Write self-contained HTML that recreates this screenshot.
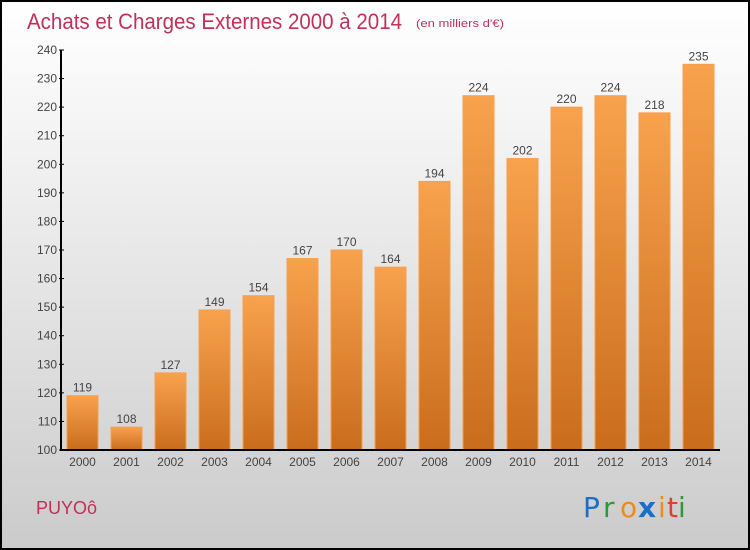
<!DOCTYPE html>
<html><head><meta charset="utf-8"><style>
html,body{margin:0;padding:0}
body{width:750px;height:550px;overflow:hidden;font-family:"Liberation Sans",sans-serif}
#wrap{position:absolute;left:0;top:0;width:746px;height:546px;border:2px solid #000;background:linear-gradient(#fff,#f3f3f3 25%,#cbcbcb)}
svg{position:absolute;left:0;top:0}
</style></head><body>
<div id="wrap"></div>
<svg width="750" height="550" id="chart">
<defs><linearGradient id="bg" x1="0" y1="0" x2="0" y2="1"><stop offset="0" stop-color="#f8a24e"/><stop offset="1" stop-color="#c96d1c"/></linearGradient></defs>
<text x="27" y="29" font-size="22" fill="#c0305a" textLength="375" lengthAdjust="spacingAndGlyphs">Achats et Charges Externes 2000 à 2014</text>
<text x="416" y="27" font-size="11" fill="#c0305a" textLength="88" lengthAdjust="spacingAndGlyphs">(en milliers d'€)</text>
<text x="36" y="514" font-size="18" fill="#c0305a">PUYOô</text>
<g font-size="28" font-family="'DejaVu Sans',sans-serif">
<text x="583" y="517" fill="#1a6fc9">P</text><text x="603" y="517" fill="#2a9a3a">r</text><text x="620" y="517" fill="#f08a1a">o</text><text x="638" y="517" fill="#1a6fc9" font-weight="bold">x</text><text x="658" y="517" fill="#f08a1a">i</text><text x="667" y="517" fill="#e0402a">t</text><text x="678" y="517" fill="#2a9a3a">i</text>
</g>
<g id="bars"></g><g id="axes"></g>
</svg>
<script>
const years=["2000","2001","2002","2003","2004","2005","2006","2007","2008","2009","2010","2011","2012","2013","2014"];
const values=[119,108,127,149,154,167,170,164,194,224,202,220,224,218,235];
const yTicks=[100,110,120,130,140,150,160,170,180,190,200,210,220,230,240];
const ns="http://www.w3.org/2000/svg";
const y=v=>450-(v-100)*400/140;
const x=i=>67+i*44;
function mk(t,a,p){const e=document.createElementNS(ns,t);for(const k in a)e.setAttribute(k,a[k]);p.appendChild(e);return e;}
const bars=document.getElementById('bars'),axes=document.getElementById('axes');
values.forEach((v,i)=>{
 const r=mk('rect',{x:x(i),y:y(v),width:31,height:450-y(v),fill:'url(#bg)',stroke:'#f5a050','stroke-width':1},bars);
 
 
 const t=mk('text',{x:x(i)+15.5,y:y(v)-4,'text-anchor':'middle','font-size':12,fill:'#444'},bars);t.textContent=v;
 
 
 const l=mk('text',{x:x(i)+15.5,y:466,'text-anchor':'middle','font-size':12,fill:'#444'},axes);l.textContent=years[i];
 
 
});
const ya=mk('line',{x1:61,y1:50,x2:61,y2:451,stroke:'#000','stroke-width':2},axes);


const xa=mk('line',{x1:60,y1:450,x2:720,y2:450,stroke:'#000','stroke-width':2},axes);


yTicks.forEach(v=>{
 mk('line',{x1:59,y1:y(v),x2:64,y2:y(v),stroke:'#000','stroke-width':1},axes);
 const t=mk('text',{x:57,y:y(v)+4,'text-anchor':'end','font-size':12,fill:'#444'},axes);t.textContent=v;
 
 
});
</script>
</body></html>
